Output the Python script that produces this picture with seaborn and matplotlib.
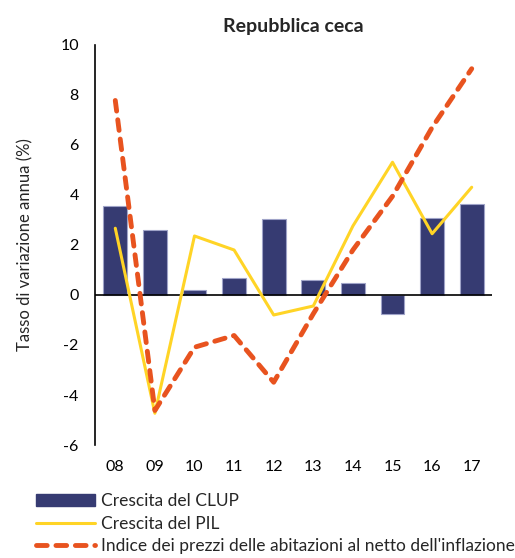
import matplotlib
matplotlib.use("Agg")
import matplotlib.pyplot as plt
import seaborn as sns
import pandas as pd
from matplotlib.patches import Patch
from matplotlib.lines import Line2D

years = ["08", "09", "10", "11", "12", "13", "14", "15", "16", "17"]
clup = [3.57, 2.6, 0.19, 0.67, 3.03, 0.6, 0.47, -0.77, 3.08, 3.64]
pil = [2.67, -4.73, 2.36, 1.8, -0.8, -0.44, 2.76, 5.31, 2.45, 4.31]
house = [7.78, -4.62, -2.09, -1.62, -3.49, -0.75, 1.8, 3.95, 6.7, 9.05]

sns.set_theme(style="white")
plt.rcParams["font.family"] = ["Lato", "DejaVu Sans"]

df = pd.DataFrame({"anno": years, "clup": clup, "pil": pil, "house": house})

fig = plt.figure(figsize=(5.15, 5.58), dpi=100)
ax = fig.add_axes([0.1854, 0.2025, 0.769, 0.7169])

bar_c = "#363B72"
yel = "#FFD426"
ora = "#E8531F"

sns.barplot(data=df, x="anno", y="clup", color=bar_c, width=0.6,
            edgecolor="#9FA3C8", linewidth=0.8, ax=ax, saturation=1)
x = list(range(len(years)))
sns.lineplot(x=x, y=pil, color=yel, linewidth=2.2, ax=ax)
sns.lineplot(x=x, y=house, color=ora, linewidth=3.5, ax=ax,
             dashes=False)
ax.lines[-1].set_linestyle((0, (2.2, 1.8)))
ax.lines[-1].set_dash_capstyle("round")

ax.axhline(0, color="black", linewidth=1.2, zorder=1.5)
ax.set_xlim(-0.5, 9.5)
ax.set_ylim(-6, 10)
ax.set_yticks(range(-6, 11, 2))
ax.set_yticklabels([str(v) for v in range(-6, 11, 2)])
for s in ["top", "right", "bottom"]:
    ax.spines[s].set_visible(False)
ax.spines["left"].set_color("black")
ax.spines["left"].set_linewidth(1.2)
ax.tick_params(axis="both", length=0, labelsize=11.5, colors="black")
ax.tick_params(axis="y", pad=12)
ax.tick_params(axis="x", pad=11)
ax.set_xlabel("")
ax.set_ylabel("Tasso di variazione annua (%)", fontsize=12, labelpad=19)
ax.set_title("Repubblica ceca", fontsize=14, fontweight="bold", pad=9)

handles = [
    Patch(facecolor=bar_c, edgecolor=bar_c),
    Line2D([0], [0], color=yel, linewidth=2.2),
    Line2D([0], [0], color=ora, linewidth=3.5, linestyle=(0, (2.2, 1.8)),
           dash_capstyle="round"),
]
labels = ["Crescita del CLUP", "Crescita del PIL",
          "Indice dei prezzi delle abitazioni al netto dell'inflazione"]
fig.legend(handles, labels, loc="lower left", bbox_to_anchor=(0.056, -0.006),
           frameon=False, fontsize=12.5, handlelength=3.4, handleheight=0.65,
           handletextpad=0.35, labelspacing=0.38, borderaxespad=0)

fig.savefig("out.png", dpi=100)
